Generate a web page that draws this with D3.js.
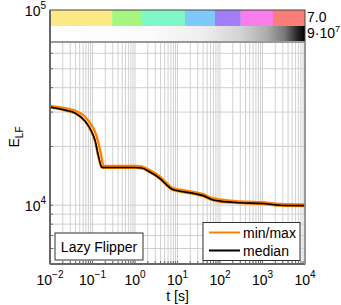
<!DOCTYPE html>
<html><head><meta charset="utf-8">
<script src="https://cdn.jsdelivr.net/npm/d3@7"></script>
<style>body{margin:0;background:#fff}svg{display:block}text{font-family:"Liberation Sans",Arial,sans-serif}</style>
</head><body><svg id="c" width="341" height="305"></svg>
<script>
const times  = [0.01,0.0225,0.0387,0.0667,0.0958,0.1146,0.137,0.164,0.18,0.3,0.6,1.0,1.44,2.25,3.88,5.57,7.31,11.5,23.6,40.5,63.8,100,296,1020,2570,10000];
const median = [31800,30700,29700,27000,23800,21500,18000,15700,15600,15600,15600,15600,15500,14800,13700,12700,12100,11800,11500,11200,10700,10500,10300,10200,10000,9950];
const maxV   = [32300,31400,30500,28400,25600,23800,21000,17500,15900,15900,15900,15900,15800,15100,14000,13000,12300,12000,11700,11400,10900,10700,10450,10350,10150,10100];
const minV   = [31700,30600,29600,26900,23600,21300,17800,15650,15550,15550,15550,15550,15450,14750,13650,12650,12050,11750,11450,11150,10650,10450,10250,10150,9950,9900];
const xTickExp = [-2,-1,0,1,2,3,4];
const yTickExp = [4,5];
const stageBounds = [0.01,0.29,1.46,15,76,309,1766,10000];
const stageColors = ["#fce985","#a6f57e","#80f7c6","#7fc8fb","#a07ef7","#f97deb","#fc7c78"];
const barLabels = ["7.0","9·10"];

const svg = d3.select("#c");
const L=50,R=305,T=10,B=264;
const x = d3.scaleLog().domain([1e-2,1e4]).range([L,R]);
const y = d3.scaleLog().domain([5000,1e5]).range([B,T]);
const gridTop = 42;

// grid
const g = svg.append("g");
const minorX=[];
for(let e=-2;e<4;e++) for(let k=1;k<10;k++) minorX.push(k*Math.pow(10,e));
minorX.push(1e4);
g.selectAll(".vx").data(minorX).join("line")
 .attr("x1",d=>x(d)).attr("x2",d=>x(d)).attr("y1",gridTop).attr("y2",B)
 .attr("stroke","#d0d0d0").attr("stroke-width",1);
const minorY=[];
for(let e=3;e<5;e++) for(let k=1;k<10;k++){const v=k*Math.pow(10,e); if(v>=5000&&v<=1e5) minorY.push(v);}
g.selectAll(".hy").data(minorY.filter(v=>y(v)>gridTop+1)).join("line")
 .attr("x1",L).attr("x2",R).attr("y1",d=>y(d)).attr("y2",d=>y(d))
 .attr("stroke","#d0d0d0").attr("stroke-width",1);

// inner ticks
svg.append("g").selectAll("line").data(minorY.filter(v=>y(v)>gridTop+1)).join("line")
 .attr("x1",L).attr("x2",L+3).attr("y1",d=>y(d)).attr("y2",d=>y(d)).attr("stroke","#666");
svg.append("g").selectAll("line").data(minorX).join("line")
 .attr("x1",d=>x(d)).attr("x2",d=>x(d)).attr("y1",B).attr("y2",B-3).attr("stroke","#666");

// stage bar
svg.append("g").selectAll("rect").data(stageColors).join("rect")
 .attr("x",(d,i)=>x(stageBounds[i])).attr("width",(d,i)=>x(stageBounds[i+1])-x(stageBounds[i]))
 .attr("y",T).attr("height",16).attr("fill",d=>d);
// gradient bar
const defs=svg.append("defs");
const gr=defs.append("linearGradient").attr("id","gg").attr("x1","0").attr("x2","1");
[[0,"#ffffff"],[0.4,"#fbfbfb"],[0.6,"#eeeeee"],[0.75,"#d2d2d2"],[0.85,"#acacac"],[0.92,"#787878"],[0.97,"#262626"],[1,"#000"]]
 .forEach(s=>gr.append("stop").attr("offset",s[0]).attr("stop-color",s[1]));
svg.append("rect").attr("x",L).attr("y",T+16).attr("width",R-L).attr("height",16).attr("fill","url(#gg)");
svg.append("line").attr("x1",L).attr("x2",R).attr("y1",gridTop).attr("y2",gridTop).attr("stroke","#999").attr("stroke-width",2);

// curves
const line = d3.line().x(d=>x(d[0])).y(d=>y(d[1])).curve(d3.curveMonotoneX);
const zip = arr => times.map((t,i)=>[t,arr[i]]);
svg.append("path").attr("d",line(zip(maxV))).attr("fill","none").attr("stroke","#ff8000").attr("stroke-width",2.4);
svg.append("path").attr("d",line(zip(minV))).attr("fill","none").attr("stroke","#ff8000").attr("stroke-width",2.4);
svg.append("path").attr("d",line(zip(median))).attr("fill","none").attr("stroke","#000").attr("stroke-width",1.6);

// frame
svg.append("rect").attr("x",L).attr("y",T).attr("width",R-L).attr("height",B-T).attr("fill","none").attr("stroke","#444").attr("stroke-width",1);
svg.append("line").attr("x1",L).attr("x2",L).attr("y1",T).attr("y2",B).attr("stroke","#666").attr("stroke-width",2);
svg.append("line").attr("x1",L).attr("x2",R).attr("y1",B).attr("y2",B).attr("stroke","#666").attr("stroke-width",2);
svg.append("line").attr("x1",R).attr("x2",R).attr("y1",gridTop).attr("y2",B).attr("stroke","#999").attr("stroke-width",1.5);

// x tick labels
const xl = svg.append("g").selectAll("text").data(xTickExp).join("text")
 .attr("x",d=>x(Math.pow(10,d))).attr("y",285).attr("text-anchor","middle").attr("font-size",14);
xl.append("tspan").text("10");
xl.append("tspan").attr("dy",-7).attr("font-size",10).text(d=>d<0?"−"+(-d):d);
// y tick labels
const yl = svg.append("g").selectAll("text").data(yTickExp).join("text")
 .attr("x",46).attr("y",d=>y(Math.pow(10,d))+6).attr("text-anchor","end").attr("font-size",14);
yl.append("tspan").text("10");
yl.append("tspan").attr("dy",-7).attr("font-size",10).text(d=>d);

// axis titles
svg.append("text").attr("x",177.5).attr("y",301).attr("text-anchor","middle").attr("font-size",14).text("t [s]");
const yt=svg.append("text").attr("transform","translate(19,137) rotate(-90)").attr("text-anchor","middle").attr("font-size",14);
yt.append("tspan").text("E");
yt.append("tspan").attr("dy",4).attr("font-size",10).text("LF");

// right bar labels
svg.append("text").attr("x",307).attr("y",22).attr("font-size",14).text(barLabels[0]);
const r2=svg.append("text").attr("x",307).attr("y",38).attr("font-size",14);
r2.append("tspan").text(barLabels[1]);
r2.append("tspan").attr("dy",-6).attr("font-size",9).text("7");

// Lazy Flipper box
svg.append("rect").attr("x",55).attr("y",233).attr("width",88).attr("height",27).attr("fill","#fff").attr("stroke","#333").attr("stroke-width",1);
svg.append("text").attr("x",99).attr("y",252).attr("text-anchor","middle").attr("font-size",14).text("Lazy Flipper");

// legend
svg.append("rect").attr("x",203).attr("y",222.5).attr("width",97).attr("height",38).attr("fill","#fff").attr("stroke","#333").attr("stroke-width",1);
const leg=[["min/max","#ff8000",232.5],["median","#000",250.5]];
leg.forEach(l=>{
 svg.append("line").attr("x1",209).attr("x2",240).attr("y1",l[2]).attr("y2",l[2]).attr("stroke",l[1]).attr("stroke-width",2);
 svg.append("text").attr("x",243).attr("y",l[2]+5).attr("font-size",14).text(l[0]);
});
</script></body></html>
